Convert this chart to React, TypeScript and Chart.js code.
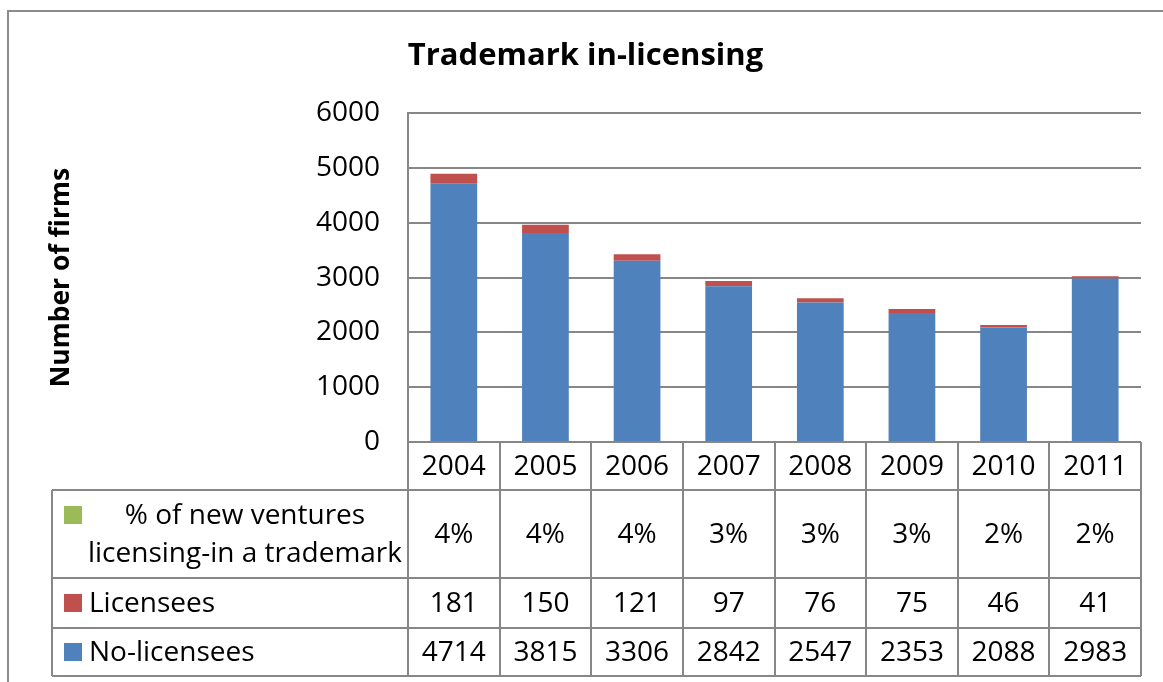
import React, { useEffect, useRef } from "react";
import { Chart, registerables } from "chart.js";

Chart.register(...registerables);

const years = ["2004", "2005", "2006", "2007", "2008", "2009", "2010", "2011"];
const noLicensees = [4714, 3815, 3306, 2842, 2547, 2353, 2088, 2983];
const licensees = [181, 150, 121, 97, 76, 75, 46, 41];
const pctLicensing = [0.04, 0.04, 0.04, 0.03, 0.03, 0.03, 0.02, 0.02];
const yMin = 0;
const yMax = 6000;
const yStep = 1000;

const chartTitle = "Trademark in-licensing";
const yTitle = "Number of firms";
const pctLabelLines = ["% of new ventures", "licensing-in a trademark"];
const licLabel = "Licensees";
const noLicLabel = "No-licensees";

const BLUE = "#4F81BD";
const RED = "#C0504D";
const GREEN = "#9BBB59";
const GRID = "#878787";
const FONT = "'Open Sans', 'DejaVu Sans', sans-serif";

const tablePlugin = {
  id: "dataTable",
  beforeDraw(chart: any) {
    const ctx = chart.ctx;
    ctx.save();
    ctx.strokeStyle = "#8c8c8c";
    ctx.lineWidth = 2;
    ctx.strokeRect(8, 11, 1200, 700);
    ctx.restore();
  },
  afterDraw(chart: any) {
    const ctx = chart.ctx;
    const xs = chart.scales.x;
    const area = chart.chartArea;
    const n = years.length;
    const cw = (area.right - area.left) / n;
    const tableLeft = 52;
    const y0 = area.bottom;
    const y1 = y0 + 48;
    const y2 = y1 + 88;
    const y3 = y2 + 50;
    const y4 = y3 + 48;

    ctx.save();
    ctx.strokeStyle = GRID;
    ctx.lineWidth = 2;
    ctx.beginPath();
    [y1, y2, y3, y4].forEach((y) => {
      ctx.moveTo(tableLeft, y);
      ctx.lineTo(area.right, y);
    });
    ctx.moveTo(tableLeft, y1);
    ctx.lineTo(tableLeft, y4);
    for (let i = 0; i <= n; i++) {
      const x = Math.round(area.left + i * cw);
      ctx.moveTo(x, y0);
      ctx.lineTo(x, y4);
    }
    ctx.stroke();

    ctx.fillStyle = "#000";
    ctx.font = `28px ${FONT}`;
    ctx.textAlign = "center";
    ctx.textBaseline = "middle";
    const rowMid = (a: number, b: number) => (a + b) / 2;
    years.forEach((yr, i) => {
      const cx = xs.getPixelForValue(i);
      ctx.fillText(yr, cx, rowMid(y0, y1) + 1);
      ctx.fillText(Math.round(pctLicensing[i] * 100) + "%", cx, rowMid(y1, y2) + 1);
      ctx.fillText(String(licensees[i]), cx, rowMid(y2, y3) + 1);
      ctx.fillText(String(noLicensees[i]), cx, rowMid(y3, y4) + 1);
    });

    // legend keys
    const keyX = 64;
    const keyS = 18;
    const l1 = y1 + 25;
    const l2 = y1 + 63;
    ctx.fillStyle = GREEN;
    ctx.fillRect(keyX, l1 - keyS / 2, keyS, keyS);
    ctx.fillStyle = RED;
    ctx.fillRect(keyX, rowMid(y2, y3) - keyS / 2, keyS, keyS);
    ctx.fillStyle = BLUE;
    ctx.fillRect(keyX, rowMid(y3, y4) - keyS / 2, keyS, keyS);

    ctx.fillStyle = "#000";
    ctx.textAlign = "center";
    ctx.fillText(pctLabelLines[0], 245, l1 + 1);
    ctx.fillText(pctLabelLines[1], 245, l2 + 1);
    ctx.textAlign = "left";
    ctx.fillText(licLabel, 89, rowMid(y2, y3) + 1);
    ctx.fillText(noLicLabel, 89, rowMid(y3, y4) + 1);
    ctx.restore();
  },
};

export default function App() {
  const ref = useRef<HTMLCanvasElement>(null);

  useEffect(() => {
    document.body.style.margin = "0";
    const canvas = ref.current;
    if (!canvas) return;
    const chart = new Chart(canvas, {
      type: "bar",
      data: {
        labels: years,
        datasets: [
          { label: noLicLabel, data: noLicensees, backgroundColor: BLUE, stack: "s" },
          { label: licLabel, data: licensees, backgroundColor: RED, stack: "s" },
          { label: pctLabelLines.join(" "), data: pctLicensing, backgroundColor: GREEN, stack: "s" },
        ],
      },
      options: {
        responsive: false,
        animation: false,
        devicePixelRatio: 1,
        layout: { padding: { top: 10, left: 30, right: 22, bottom: 240 } },
        datasets: { bar: { categoryPercentage: 1, barPercentage: 0.51 } },
        plugins: {
          legend: { display: false },
          tooltip: { enabled: false },
          title: {
            display: true,
            text: chartTitle,
            color: "#000",
            font: { family: FONT, size: 31, weight: "bold", lineHeight: 1.2 },
            padding: { top: 28, bottom: 38 },
          },
        },
        scales: {
          x: { display: false, stacked: true },
          y: {
            stacked: true,
            min: yMin,
            max: yMax,
            ticks: {
              stepSize: yStep,
              color: "#000",
              padding: 28,
              font: { family: FONT, size: 28 },
              callback: (v: any) => String(v),
            },
            grid: { color: GRID, lineWidth: 2, drawTicks: false },
            border: { color: GRID, width: 2 },
            title: {
              display: true,
              text: yTitle,
              color: "#000",
              font: { family: FONT, size: 26.5, weight: "bold", lineHeight: 1.2 },
              padding: { top: 16, bottom: 0 },
            },
            afterFit(scale: any) {
              scale.width = 378;
            },
          },
        },
      },
      plugins: [tablePlugin],
    });
    return () => chart.destroy();
  }, []);

  return <canvas ref={ref} width={1163} height={682} style={{ display: "block" }} />;
}
